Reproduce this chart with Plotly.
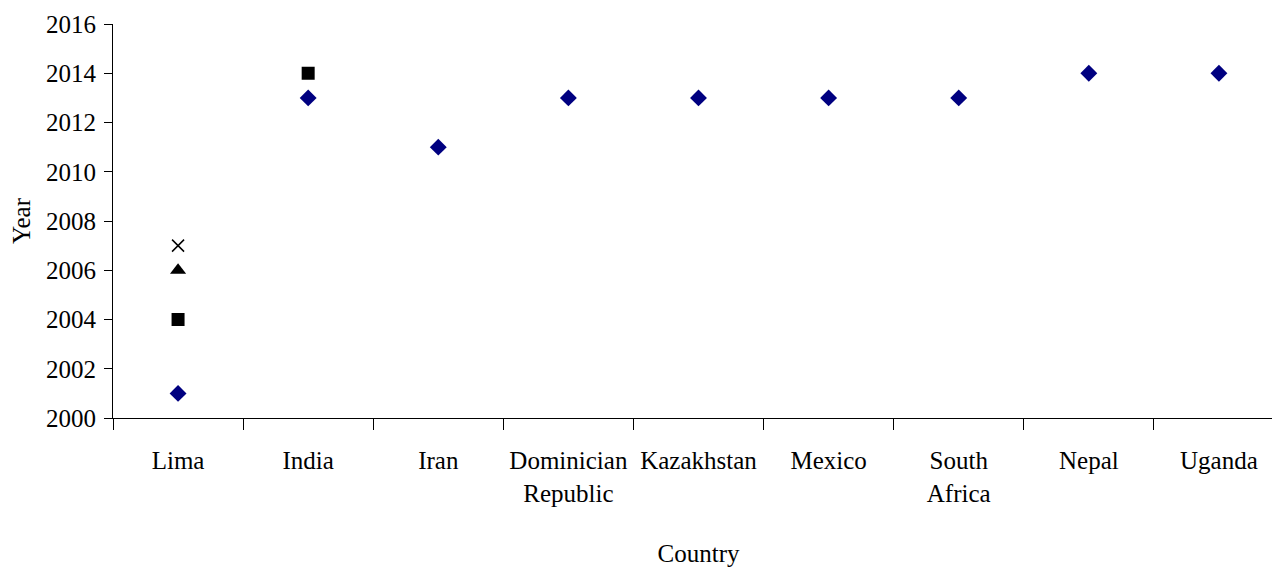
import plotly.graph_objects as go

countries = ["Lima", "India", "Iran", "Dominician<br>Republic", "Kazakhstan",
             "Mexico", "South<br>Africa", "Nepal", "Uganda"]
series1_years = [2001, 2013, 2011, 2013, 2013, 2013, 2013, 2014, 2014]
series2_countries = ["Lima", "India"]
series2_years = [2004, 2014]
series3_countries = ["Lima"]
series3_years = [2006]
series4_countries = ["Lima"]
series4_years = [2007]

fig = go.Figure()
fig.add_trace(go.Scatter(x=countries, y=series1_years, mode="markers",
                         marker=dict(symbol="diamond", size=13, color="#000080",
                                     line=dict(width=0))))
fig.add_trace(go.Scatter(x=series2_countries, y=series2_years, mode="markers",
                         marker=dict(symbol="square", size=13, color="black")))
fig.add_trace(go.Scatter(x=series3_countries, y=series3_years, mode="markers",
                         marker=dict(symbol="triangle-up", size=14, color="black")))
fig.add_trace(go.Scatter(x=series4_countries, y=series4_years, mode="markers",
                         marker=dict(symbol="x-thin", size=12, color="black",
                                     line=dict(color="black", width=1.5))))

font = dict(family="Liberation Serif, Times New Roman, serif", size=25, color="black")
fig.update_layout(
    width=1276, height=561,
    margin=dict(l=105, r=0, t=16, b=151),
    paper_bgcolor="white", plot_bgcolor="white",
    showlegend=False, font=font,
    xaxis=dict(type="category", categoryorder="array", categoryarray=countries,
               range=[-0.5, 8.5], showline=True, linecolor="black", linewidth=1,
               ticks="outside", tickson="boundaries", ticklen=11, tickcolor="black",
               ticklabelstandoff=20,
               showgrid=False, zeroline=False,
               title=dict(text="Country", font=font, standoff=38)),
    yaxis=dict(range=[2000, 2016], dtick=2, showline=True, linecolor="black",
               linewidth=1, ticks="outside", ticklen=8, tickcolor="black",
               showgrid=False, zeroline=False, tickformat="d",
               ticklabelstandoff=3,
               title=dict(text="Year", font=font, standoff=12)),
)
fig.write_html("out.html")
